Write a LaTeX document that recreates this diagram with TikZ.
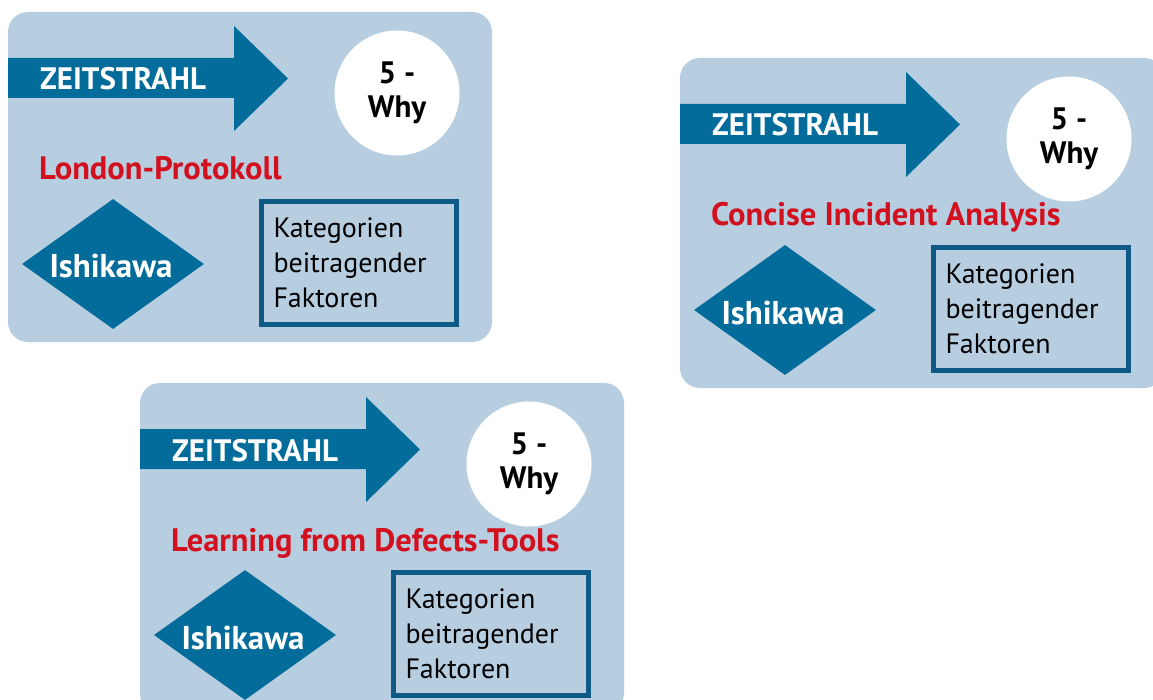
\documentclass[tikz,border=0pt]{standalone}
\usepackage{fontspec}
\setmainfont{PT Sans}
\usetikzlibrary{shapes.geometric, positioning}

\definecolor{panelblue}{HTML}{B7CEE1}
\definecolor{arrowblue}{HTML}{046C9A}
\definecolor{frameblue}{HTML}{0E5A87}
\definecolor{titlered}{HTML}{D2101E}

\tikzset{
  panel/.style={fill=panelblue, rounded corners=20pt},
  timearrow/.style={fill=arrowblue},
  arrowtext/.style={text=white, inner sep=0pt, anchor=base west, font=\fontsize{31}{34}\selectfont\bfseries},
  whycircle/.style={circle, fill=white, minimum size=125pt, inner sep=0pt, align=center, font=\fontsize{31}{34}\selectfont\bfseries},
  titletext/.style={text=titlered, inner sep=0pt, anchor=base west, font=\fontsize{32.5}{35}\selectfont\bfseries},
  ishidiamond/.style={diamond, fill=arrowblue, minimum width=182pt, minimum height=130pt, inner sep=0pt},
  ishitext/.style={text=white, inner sep=0pt, anchor=base, font=\fontsize{33}{36}\selectfont\bfseries},
  katbox/.style={draw=frameblue, line width=5pt, minimum width=195pt, minimum height=123pt, inner xsep=12pt, text width=171pt, align=left, font=\fontsize{28}{35}\selectfont}
}

% one panel: #1 name prefix, #2 shift, #3 title
\newcommand{\rcapanel}[3]{%
  \begin{scope}[shift={#2}]
    \fill[panel] (0,0) rectangle (484,330);
    \fill[timearrow] (0,46) -- (226,46) -- (226,14) -- (280,66.5) -- (226,119) -- (226,86) -- (0,86) -- cycle;
    \node[arrowtext] (#1time) at (32,78) {ZEITSTRAHL};
    \node[whycircle] (#1why) at (389,81) {5 -\\Why};
    \node[titletext] (#1title) at (31,168) {#3};
    \node[ishidiamond] (#1ishi) at (105,252) {};
    \node[ishitext] (#1ishitext) at (103,266) {Ishikawa};
    \node[katbox] (#1kat) at (351,251) {Kategorien\\beitragender\\Faktoren};
  \end{scope}}

\begin{document}
\begin{tikzpicture}[x=1pt, y=-1pt]
  \clip (0,0) rectangle (1153,700);
  \fill[white] (0,0) rectangle (1153,700);
  \rcapanel{lp}{(8,12)}{London-Protokoll}
  \rcapanel{cia}{(680,58)}{Concise Incident Analysis}
  \rcapanel{lfd}{(140,383)}{Learning from Defects-Tools}
\end{tikzpicture}
\end{document}
